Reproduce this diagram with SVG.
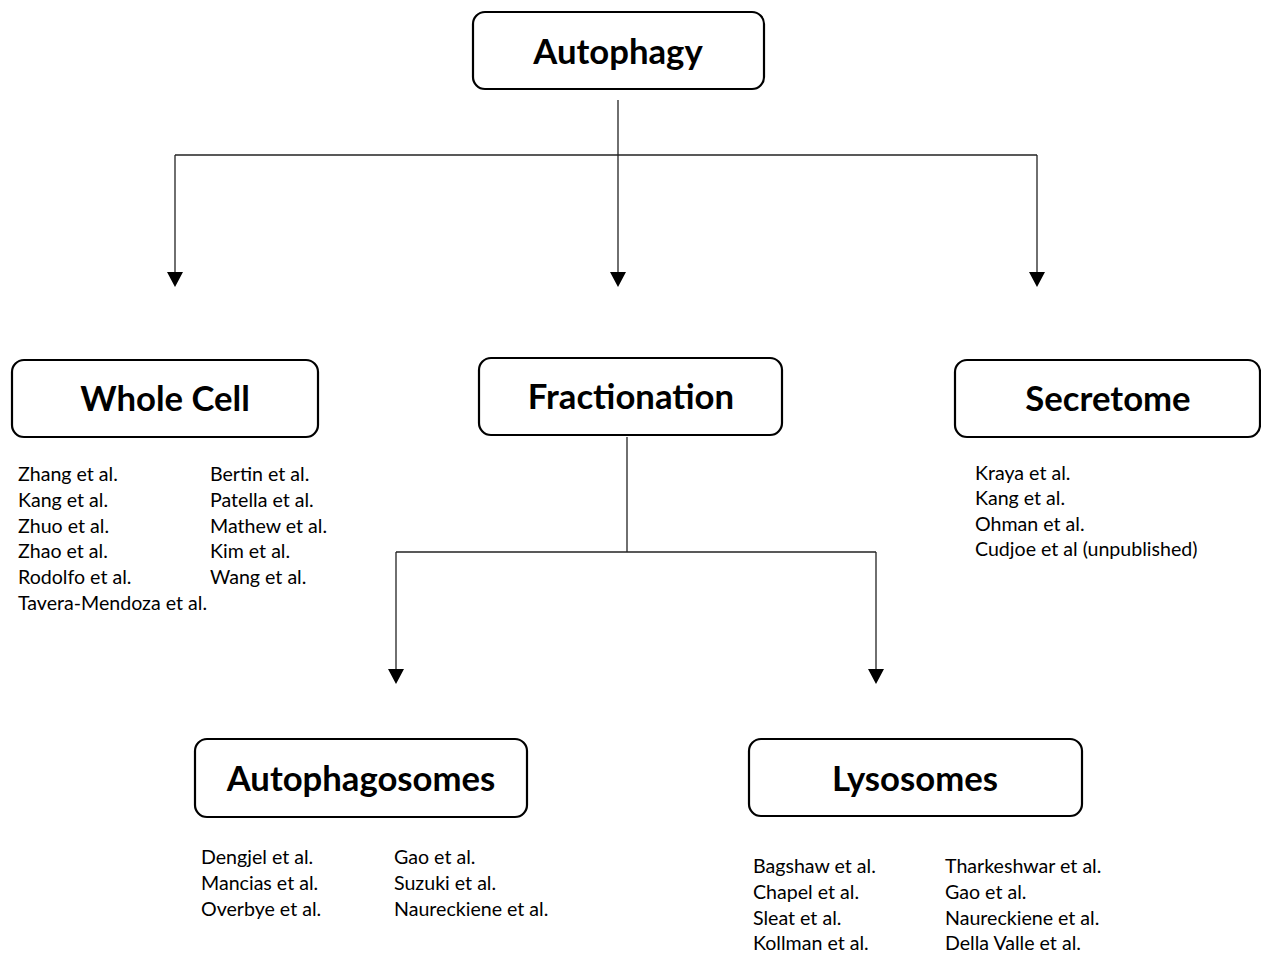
<svg xmlns="http://www.w3.org/2000/svg" width="1261" height="954" viewBox="0 0 1261 954">
<style>
.box{fill:#fff;stroke:#000;stroke-width:2.2}
.title{font-family:Lato,"Liberation Sans",sans-serif;font-weight:bold;font-size:34.7px;text-anchor:middle;fill:#000}
.ref{font-family:Lato,"Liberation Sans",sans-serif;font-size:19.6px;fill:#000}
.con{stroke:#222;stroke-width:1.3;fill:none}
.head{fill:#000}
</style>
<rect width="1261" height="954" fill="#fff"/>
<g id="connectors">
<path class="con" d="M618,100 V155"/>
<path class="con" d="M175,155 H1037"/>
<path class="con" d="M175,155 V272"/>
<path class="con" d="M618,155 V272"/>
<path class="con" d="M1037,155 V272"/>
<path class="head" d="M167,272 L183,272 L175,287 Z"/>
<path class="head" d="M610,272 L626,272 L618,287 Z"/>
<path class="head" d="M1029,272 L1045,272 L1037,287 Z"/>
<path class="con" d="M627,437 V552"/>
<path class="con" d="M396,552 H876"/>
<path class="con" d="M396,552 V669"/>
<path class="con" d="M876,552 V669"/>
<path class="head" d="M388,669 L404,669 L396,684 Z"/>
<path class="head" d="M868,669 L884,669 L876,684 Z"/>
</g>
<g id="autophagy">
<rect class="box" x="473" y="12" width="291" height="77" rx="12"/>
<text class="title" x="618" y="64">Autophagy</text>
</g>
<g id="whole-cell">
<rect class="box" x="12" y="360" width="306" height="77" rx="12"/>
<text class="title" x="165" y="411">Whole Cell</text>
<text class="ref" x="18" y="481">Zhang et al.</text>
<text class="ref" x="18" y="507">Kang et al.</text>
<text class="ref" x="18" y="533">Zhuo et al.</text>
<text class="ref" x="18" y="558">Zhao et al.</text>
<text class="ref" x="18" y="584">Rodolfo et al.</text>
<text class="ref" x="18" y="610">Tavera-Mendoza et al.</text>
<text class="ref" x="210" y="481">Bertin et al.</text>
<text class="ref" x="210" y="507">Patella et al.</text>
<text class="ref" x="210" y="533">Mathew et al.</text>
<text class="ref" x="210" y="558">Kim et al.</text>
<text class="ref" x="210" y="584">Wang et al.</text>
</g>
<g id="fractionation">
<rect class="box" x="479" y="358" width="303" height="77" rx="12"/>
<text class="title" x="631" y="409">Fractionation</text>
</g>
<g id="secretome">
<rect class="box" x="955" y="360" width="305" height="77" rx="12"/>
<text class="title" x="1108" y="411">Secretome</text>
<text class="ref" x="975" y="480">Kraya et al.</text>
<text class="ref" x="975" y="505">Kang et al.</text>
<text class="ref" x="975" y="531">Ohman et al.</text>
<text class="ref" x="975" y="556">Cudjoe et al (unpublished)</text>
</g>
<g id="autophagosomes">
<rect class="box" x="195" y="739" width="332" height="78" rx="12"/>
<text class="title" x="361" y="791">Autophagosomes</text>
<text class="ref" x="201" y="864">Dengjel et al.</text>
<text class="ref" x="201" y="890">Mancias et al.</text>
<text class="ref" x="201" y="916">Overbye et al.</text>
<text class="ref" x="394" y="864">Gao et al.</text>
<text class="ref" x="394" y="890">Suzuki et al.</text>
<text class="ref" x="394" y="916">Naureckiene et al.</text>
</g>
<g id="lysosomes">
<rect class="box" x="749" y="739" width="333" height="77" rx="12"/>
<text class="title" x="915" y="791">Lysosomes</text>
<text class="ref" x="753" y="873">Bagshaw et al.</text>
<text class="ref" x="753" y="899">Chapel et al.</text>
<text class="ref" x="753" y="925">Sleat et al.</text>
<text class="ref" x="753" y="950">Kollman et al.</text>
<text class="ref" x="945" y="873">Tharkeshwar et al.</text>
<text class="ref" x="945" y="899">Gao et al.</text>
<text class="ref" x="945" y="925">Naureckiene et al.</text>
<text class="ref" x="945" y="950">Della Valle et al.</text>
</g>
</svg>
